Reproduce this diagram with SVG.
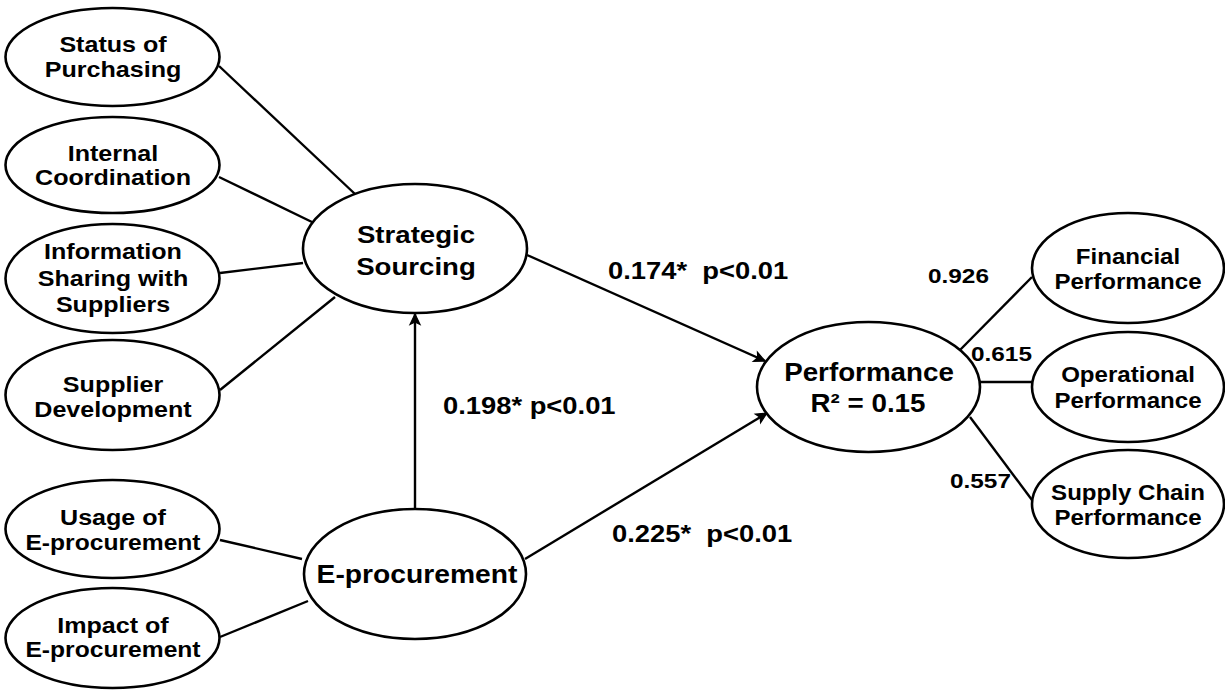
<svg xmlns="http://www.w3.org/2000/svg" width="1225" height="690" viewBox="0 0 1225 690">
<style>
  .node ellipse { fill: #ffffff; stroke: #000000; stroke-width: 2.6; }
  .node text { font-family: "Liberation Sans", Arial, sans-serif; font-weight: bold; fill: #000000; text-anchor: middle; }
  .small text { font-size: 22px; }
  .right text { font-size: 22.5px; }
  .big text { font-size: 24px; }
  .conn line { stroke: #000000; stroke-width: 2.4; fill: none; }
  .lbl { font-family: "Liberation Sans", Arial, sans-serif; font-weight: bold; fill: #000000; white-space: pre; }
  .path { font-size: 24px; }
  .load { font-size: 21px; }
</style>
<defs>
  <marker id="arr" markerUnits="userSpaceOnUse" markerWidth="14" markerHeight="14" viewBox="0 0 14 14" refX="12.5" refY="7" orient="auto">
    <path d="M2,2 L12.5,7 L2,12 L4.5,7 Z" fill="#000000" stroke="#000000" stroke-width="1.2" stroke-linejoin="miter"/>
  </marker>
</defs>
<rect width="1225" height="690" fill="#ffffff"/>

<g id="connectors" class="conn">
  <line x1="219" y1="66" x2="355" y2="194"/>
  <line x1="219" y1="177" x2="314" y2="223"/>
  <line x1="220" y1="273" x2="303" y2="263"/>
  <line x1="220" y1="390" x2="335" y2="297"/>
  <line x1="415" y1="509" x2="415" y2="314" marker-end="url(#arr)"/>
  <line x1="220" y1="540" x2="302" y2="559"/>
  <line x1="220" y1="637" x2="308" y2="601"/>
  <line x1="527" y1="255" x2="765" y2="361" marker-end="url(#arr)"/>
  <line x1="525" y1="559" x2="767" y2="413" marker-end="url(#arr)"/>
  <line x1="960" y1="350" x2="1032" y2="277"/>
  <line x1="980" y1="382" x2="1032" y2="382"/>
  <line x1="970" y1="417" x2="1032" y2="500"/>
</g>

<g id="labels">
  <text class="lbl path" transform="translate(608,279) scale(1.14,1)" xml:space="preserve">0.174*  p&lt;0.01</text>
  <text class="lbl path" transform="translate(443,414) scale(1.14,1)" xml:space="preserve">0.198* p&lt;0.01</text>
  <text class="lbl path" transform="translate(612,542) scale(1.14,1)" xml:space="preserve">0.225*  p&lt;0.01</text>
  <text class="lbl load" transform="translate(928,283) scale(1.16,1)">0.926</text>
  <text class="lbl load" transform="translate(971,361) scale(1.16,1)">0.615</text>
  <text class="lbl load" transform="translate(950,488) scale(1.16,1)">0.557</text>
</g>

<g id="status-of-purchasing" class="node small">
  <ellipse cx="112.5" cy="57" rx="107" ry="49"/>
  <text transform="translate(113,52) scale(1.14,1)">Status of</text>
  <text transform="translate(113,77) scale(1.14,1)">Purchasing</text>
</g>
<g id="internal-coordination" class="node small">
  <ellipse cx="112.5" cy="165" rx="107" ry="48"/>
  <text transform="translate(113,161) scale(1.14,1)">Internal</text>
  <text transform="translate(113,185) scale(1.14,1)">Coordination</text>
</g>
<g id="information-sharing" class="node small">
  <ellipse cx="112.5" cy="278.5" rx="107" ry="54.5"/>
  <text transform="translate(113,259) scale(1.14,1)">Information</text>
  <text transform="translate(113,286) scale(1.14,1)">Sharing with</text>
  <text transform="translate(113,312) scale(1.14,1)">Suppliers</text>
</g>
<g id="supplier-development" class="node small">
  <ellipse cx="112.5" cy="395" rx="107" ry="55"/>
  <text transform="translate(113,392) scale(1.14,1)">Supplier</text>
  <text transform="translate(113,417) scale(1.14,1)">Development</text>
</g>
<g id="usage-of-e-procurement" class="node small">
  <ellipse cx="112.5" cy="529" rx="107" ry="49"/>
  <text transform="translate(113,525) scale(1.14,1)">Usage of</text>
  <text transform="translate(113,550) scale(1.12,1)">E-procurement</text>
</g>
<g id="impact-of-e-procurement" class="node small">
  <ellipse cx="112.5" cy="638" rx="107" ry="50"/>
  <text transform="translate(113,633) scale(1.14,1)">Impact of</text>
  <text transform="translate(113,657) scale(1.12,1)">E-procurement</text>
</g>

<g id="strategic-sourcing" class="node big">
  <ellipse cx="415" cy="248.5" rx="112" ry="64.5"/>
  <text transform="translate(416,243) scale(1.15,1)">Strategic</text>
  <text transform="translate(416,275) scale(1.15,1)">Sourcing</text>
</g>
<g id="e-procurement" class="node big">
  <ellipse cx="415" cy="574" rx="111" ry="65"/>
  <text transform="translate(417,583) scale(1.13,1)" style="font-size:25px">E-procurement</text>
</g>
<g id="performance" class="node big">
  <ellipse cx="868.5" cy="387" rx="111.5" ry="65"/>
  <text transform="translate(869,381) scale(1.11,1)" style="font-size:25px">Performance</text>
  <text transform="translate(868,412) scale(1.11,1)" style="font-size:25px">R² = 0.15</text>
</g>

<g id="financial-performance" class="node right">
  <ellipse cx="1128" cy="268" rx="96" ry="55"/>
  <text transform="translate(1128,264) scale(1.07,1)">Financial</text>
  <text transform="translate(1128,289) scale(1.07,1)">Performance</text>
</g>
<g id="operational-performance" class="node right">
  <ellipse cx="1128" cy="387" rx="96" ry="55"/>
  <text transform="translate(1128,382) scale(1.07,1)">Operational</text>
  <text transform="translate(1128,408) scale(1.07,1)">Performance</text>
</g>
<g id="supply-chain-performance" class="node right">
  <ellipse cx="1128" cy="504" rx="96" ry="54"/>
  <text transform="translate(1128,500) scale(1.07,1)">Supply Chain</text>
  <text transform="translate(1128,525) scale(1.07,1)">Performance</text>
</g>
</svg>
